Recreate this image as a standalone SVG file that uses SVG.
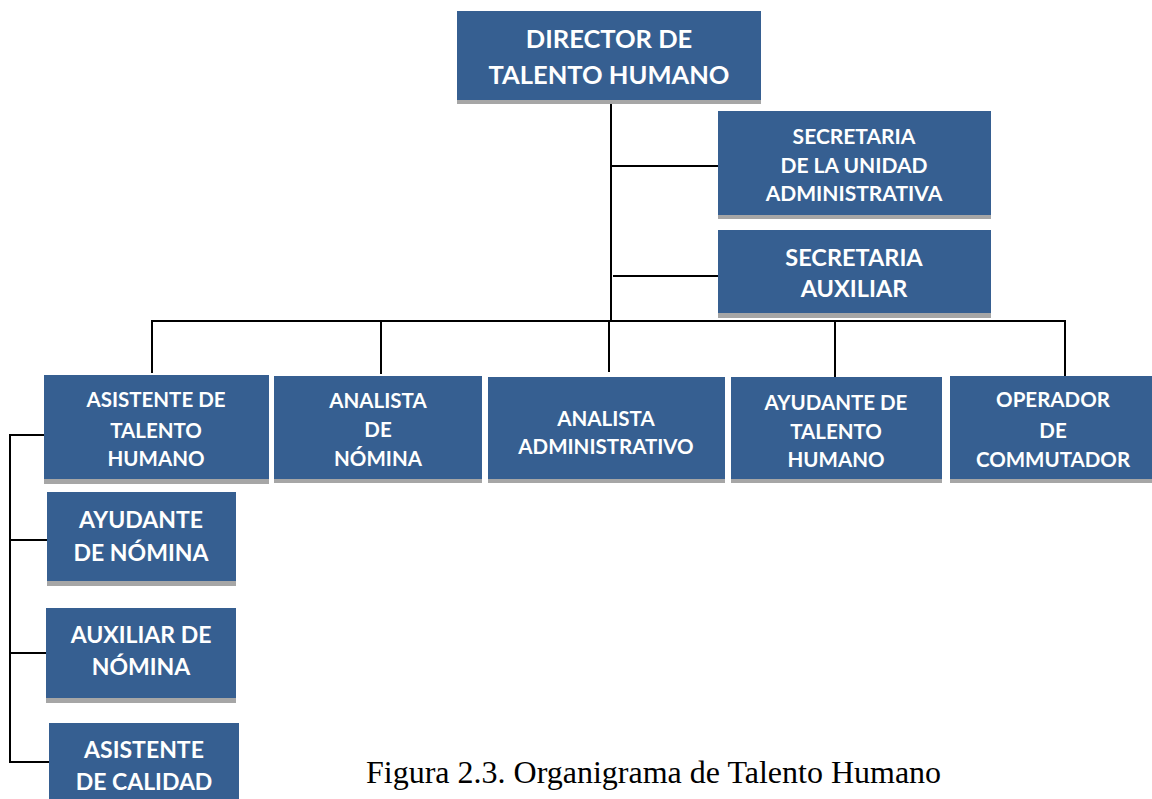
<svg xmlns="http://www.w3.org/2000/svg" width="1152" height="799" viewBox="0 0 1152 799">
<style>
.box{fill:#365F91}
.sh{fill:#A6A6A6}
.t{font-family:Lato,"Open Sans","Liberation Sans",sans-serif;font-weight:bold;fill:#FFFFFF;text-anchor:middle}
.r{font-size:20.5px}
.ln{stroke:#000;stroke-width:2;fill:none}
.cap{font-family:"Liberation Serif","Times New Roman",serif;font-size:32px;fill:#000}
</style>
<rect width="1152" height="799" fill="#FFFFFF"/>
<g id="connectors">
<line class="ln" x1="611" y1="104" x2="611" y2="321"/>
<line class="ln" x1="611" y1="166" x2="718" y2="166"/>
<line class="ln" x1="613" y1="276" x2="718" y2="276"/>
<line class="ln" x1="151" y1="321" x2="1066" y2="321"/>
<line class="ln" x1="152" y1="320" x2="152" y2="373"/>
<line class="ln" x1="381" y1="320" x2="381" y2="374"/>
<line class="ln" x1="609" y1="320" x2="609" y2="372"/>
<line class="ln" x1="835" y1="320" x2="835" y2="377"/>
<line class="ln" x1="1065" y1="320" x2="1065" y2="376"/>
<polyline class="ln" points="44,435 10,435 10,762 49,762"/>
<line class="ln" x1="10" y1="540" x2="47" y2="540"/>
<line class="ln" x1="10" y1="653" x2="46" y2="653"/>
</g>
<g id="director">
<rect class="sh" x="457" y="15" width="304" height="89"/>
<rect class="box" x="457" y="11" width="304" height="89"/>
<text class="t" x="609" y="48" font-size="25.5">DIRECTOR DE</text>
<text class="t" x="609" y="84" font-size="25.5">TALENTO HUMANO</text>
</g>
<g id="secretaria-unidad">
<rect class="sh" x="718" y="115" width="273" height="104"/>
<rect class="box" x="718" y="111" width="273" height="104"/>
<text class="t" x="854" y="144" font-size="21">SECRETARIA</text>
<text class="t" x="854" y="173" font-size="21">DE LA UNIDAD</text>
<text class="t" x="854" y="201" font-size="21">ADMINISTRATIVA</text>
</g>
<g id="secretaria-auxiliar">
<rect class="sh" x="718" y="234" width="273" height="84"/>
<rect class="box" x="718" y="230" width="273" height="83"/>
<text class="t" x="854" y="266" font-size="23.5">SECRETARIA</text>
<text class="t" x="854" y="297" font-size="23.5">AUXILIAR</text>
</g>
<g id="asistente-talento">
<rect class="sh" x="44" y="379" width="225" height="105"/>
<rect class="box" x="44" y="375" width="225" height="104"/>
<text class="t r" x="156" y="407">ASISTENTE DE</text>
<text class="t r" x="156" y="438">TALENTO</text>
<text class="t r" x="156" y="466">HUMANO</text>
</g>
<g id="analista-nomina">
<rect class="sh" x="274" y="380" width="208" height="103"/>
<rect class="box" x="274" y="376" width="208" height="103"/>
<text class="t r" x="378" y="408">ANALISTA</text>
<text class="t r" x="378" y="437">DE</text>
<text class="t r" x="378" y="466">NÓMINA</text>
</g>
<g id="analista-administrativo">
<rect class="sh" x="488" y="381" width="237" height="102"/>
<rect class="box" x="488" y="377" width="237" height="102"/>
<text class="t r" x="606" y="426">ANALISTA</text>
<text class="t r" x="606" y="454">ADMINISTRATIVO</text>
</g>
<g id="ayudante-talento">
<rect class="sh" x="731" y="381" width="211" height="102"/>
<rect class="box" x="731" y="377" width="211" height="102"/>
<text class="t r" x="836" y="410">AYUDANTE DE</text>
<text class="t r" x="836" y="439">TALENTO</text>
<text class="t r" x="836" y="467">HUMANO</text>
</g>
<g id="operador">
<rect class="sh" x="950" y="380" width="202" height="103"/>
<rect class="box" x="950" y="376" width="202" height="103"/>
<text class="t r" x="1053" y="407">OPERADOR</text>
<text class="t r" x="1053" y="438">DE</text>
<text class="t r" x="1053" y="467">COMMUTADOR</text>
</g>
<g id="ayudante-nomina">
<rect class="sh" x="47" y="496" width="189" height="90"/>
<rect class="box" x="47" y="492" width="189" height="89"/>
<text class="t" x="141" y="528" font-size="23">AYUDANTE</text>
<text class="t" x="141" y="561" font-size="23">DE NÓMINA</text>
</g>
<g id="auxiliar-nomina">
<rect class="sh" x="46" y="612" width="190" height="91"/>
<rect class="box" x="46" y="608" width="190" height="90"/>
<text class="t" x="141" y="643" font-size="23">AUXILIAR DE</text>
<text class="t" x="141" y="675" font-size="23">NÓMINA</text>
</g>
<g id="asistente-calidad">
<rect class="box" x="49" y="723" width="190" height="76"/>
<text class="t" x="144" y="758" font-size="23">ASISTENTE</text>
<text class="t" x="144" y="790" font-size="23">DE CALIDAD</text>
</g>
<text class="cap" x="366" y="783">Figura 2.3. Organigrama de Talento Humano</text>
</svg>
